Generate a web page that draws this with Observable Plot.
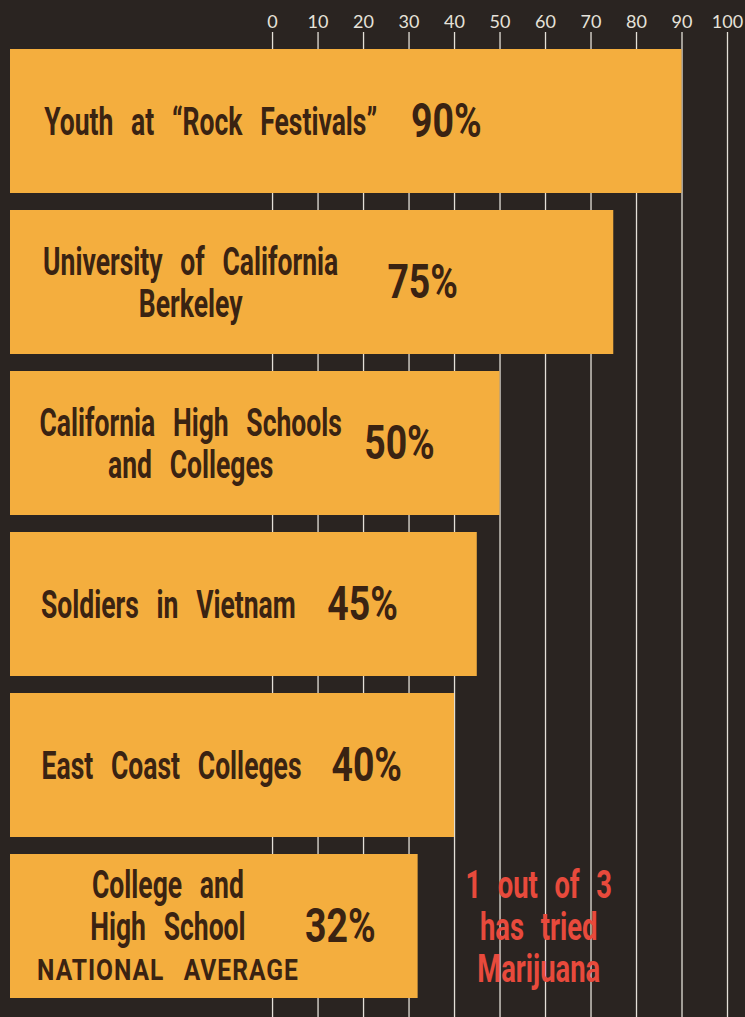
<!DOCTYPE html>
<html>
<head>
<meta charset="utf-8">
<script src="https://cdn.jsdelivr.net/npm/d3@7"></script>
<script src="https://cdn.jsdelivr.net/npm/@observablehq/plot@0.6"></script>
<style>
  html, body { margin: 0; padding: 0; background: #2a2421; }
  svg { display: block; }
  g.cond text { word-spacing: 0.42em; }
  g.note text { word-spacing: 0.36em; }
  g.semi text { word-spacing: 0.5em; letter-spacing: 0.04em; }
</style>
</head>
<body>
<div id="chart"></div>
<script>
// ---- data ----
const categories = [
  "Youth at “Rock Festivals”",
  "University of California\nBerkeley",
  "California High Schools\nand Colleges",
  "Soldiers in Vietnam",
  "East Coast Colleges",
  "College and\nHigh School"
];
const values = [90, 75, 50, 45, 40, 32];
const subLabels = ["", "", "", "", "", "NATIONAL AVERAGE"];
const tickValues = [0, 10, 20, 30, 40, 50, 60, 70, 80, 90, 100];
const noteText = "1 out of 3\nhas tried\nMarijuana";

// ---- layout (in x-scale units) ----
const xMin = -57.6;
const labelX = [-13.6, -18, -18, -22.9, -22.2, -23];
const pctX = [38.2, 33, 27.9, 19.8, 20.7, 14.9];
const noteX = 58.5;

const rows = categories.map((c, i) => ({
  category: c, value: values[i], pct: values[i] + "%",
  sub: subLabels[i], lx: labelX[i], px: pctX[i]
}));

const font = "Roboto, 'Liberation Sans', sans-serif";
const ink = "#3a2312";
const orange = "#f4ae3e";

const chart = Plot.plot({
  width: 745,
  height: 1017,
  marginTop: 32,
  marginBottom: 0,
  marginLeft: 10,
  marginRight: 18,
  style: { background: "#2a2421", fontFamily: font },
  x: { domain: [xMin, 100], axis: null },
  y: { domain: categories, range: [48, 998], paddingInner: 0.107, paddingOuter: 0, axis: null },
  marks: [
    Plot.ruleX(tickValues, { x: d => d, stroke: "#e4e0d8", strokeWidth: 1.3 }),
    Plot.text(tickValues, {
      x: d => d, text: d => String(d), frameAnchor: "top", dy: -17,
      fill: "#e6e2da", fontSize: 18, fontFamily: "Lato, 'DejaVu Sans', sans-serif"
    }),
    Plot.barX(rows, { x1: xMin, x2: "value", y: "category", fill: orange }),
    Plot.text(rows.filter(d => !d.sub), {
      x: "lx", y: "category", text: "category", fill: ink,
      fontSize: 39, fontWeight: "bold", lineHeight: 1.08, className: "cond"
    }),
    Plot.text(rows.filter(d => d.sub), {
      x: "lx", y: "category", text: "category", fill: ink, dy: -21,
      fontSize: 39, fontWeight: "bold", lineHeight: 1.08, className: "cond"
    }),
    Plot.text(rows.filter(d => d.sub), {
      x: "lx", y: "category", text: "sub", fill: ink, dy: 44,
      fontSize: 30, fontWeight: "bold", className: "semi"
    }),
    Plot.text(rows, {
      x: "px", y: "category", text: "pct", fill: ink,
      fontSize: 48, fontWeight: "bold", className: "pct"
    }),
    Plot.text([noteText], {
      x: noteX, y: [categories[categories.length - 1]], text: d => d,
      fill: "#e84a3c", fontSize: 38, fontWeight: "bold", lineHeight: 1.1, className: "note"
    })
  ]
});

// condense text horizontally (the original uses a condensed typeface)
function condense(cls, k) {
  d3.select(chart).selectAll("g." + cls + " text").each(function () {
    const t = this.getAttribute("transform") || "";
    this.setAttribute("transform", t + ` scale(${k},1)`);
  });
}
condense("cond", 0.68);
condense("note", 0.72);
condense("semi", 0.82);
condense("pct", 0.78);

document.getElementById("chart").appendChild(chart);
</script>
</body>
</html>
